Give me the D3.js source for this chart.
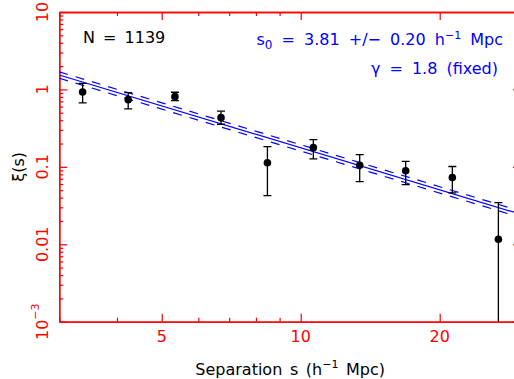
<!DOCTYPE html>
<html>
<head>
<meta charset="utf-8">
<script src="https://cdn.jsdelivr.net/npm/d3@7/dist/d3.min.js"></script>
<style>
  html, body { margin: 0; padding: 0; background: #fff; }
  svg { display: block; }
  text { font-family: "DejaVu Sans", sans-serif; }
</style>
</head>
<body>
<svg id="chart" width="514" height="379"></svg>
<script>
// ---- data ----
const separation = [3.37, 4.23, 5.34, 6.72, 8.47, 10.65, 13.42, 16.88, 21.3, 26.8];
const xi         = [0.928, 0.738, 0.807, 0.432, 0.113, 0.177, 0.105, 0.089, 0.073, 0.0116];
const xiHigh     = [1.20, 0.909, 0.920, 0.523, 0.182, 0.225, 0.144, 0.118, 0.101, 0.0345];
const xiLow      = [0.669, 0.560, 0.717, 0.355, 0.0425, 0.1265, 0.0644, 0.0589, 0.046, 0.0005];

// power-law fit  xi(s) = (s / s0)^-gamma
const s0 = 3.81;
const s0Err = 0.20;
const gamma = 1.8;
const nPairs = 1139;

const xDomain = [3, 30];
const yDomain = [1e-3, 10];
const xTickMajor = [5, 10, 20];
const xTickMinor = [3, 4, 6, 7, 8, 9, 30];
const xTickLabels = ["5", "10", "20"];
const yTickMajor = [1e-3, 1e-2, 1e-1, 1, 10];
const yTickLabels = [["10", "\u22123"], ["0.01"], ["0.1"], ["1"], ["10"]];
const yTickMinor = [];
[1e-3, 1e-2, 1e-1, 1].forEach(d => { for (let k = 2; k <= 9; k++) yTickMinor.push(d * k); });

// ---- layout ----
const L = 59.3, R = 521, T = 12, B = 321.7;
const RED = "#ff0000", BLUE = "#0000ff";

const svg = d3.select("#chart");
const x = d3.scaleLog().domain(xDomain).range([L, R]);
const y = d3.scaleLog().domain(yDomain).range([B, T]);

svg.append("defs").append("clipPath").attr("id", "plotclip")
  .append("rect").attr("x", L).attr("y", T).attr("width", R - L).attr("height", B - T);

// ---- axes (ticks inward) ----
function styleAxis(g) {
  g.selectAll("path.domain").attr("stroke", RED).attr("stroke-width", 1.3);
  g.selectAll(".tick line").attr("stroke", RED).attr("stroke-width", 1.2);
  g.selectAll(".tick text").remove();
}
const axes = svg.append("g");
// bottom
axes.append("g").attr("transform", `translate(0,${B})`)
  .call(d3.axisBottom(x).tickValues(xTickMinor).tickSizeInner(-4).tickSizeOuter(0).tickFormat(""))
  .call(styleAxis);
axes.append("g").attr("transform", `translate(0,${B})`)
  .call(d3.axisBottom(x).tickValues(xTickMajor).tickSizeInner(-8).tickSizeOuter(0).tickFormat(""))
  .call(styleAxis);
// top
axes.append("g").attr("transform", `translate(0,${T})`)
  .call(d3.axisTop(x).tickValues(xTickMinor).tickSizeInner(-4).tickSizeOuter(0).tickFormat(""))
  .call(styleAxis);
axes.append("g").attr("transform", `translate(0,${T})`)
  .call(d3.axisTop(x).tickValues(xTickMajor).tickSizeInner(-8).tickSizeOuter(0).tickFormat(""))
  .call(styleAxis);
// left
axes.append("g").attr("transform", `translate(${L},0)`)
  .call(d3.axisLeft(y).tickValues(yTickMinor).tickSizeInner(-4).tickSizeOuter(0).tickFormat(""))
  .call(styleAxis);
axes.append("g").attr("transform", `translate(${L},0)`)
  .call(d3.axisLeft(y).tickValues(yTickMajor).tickSizeInner(-8).tickSizeOuter(0).tickFormat(""))
  .call(styleAxis);
// right
axes.append("g").attr("transform", `translate(${R},0)`)
  .call(d3.axisRight(y).tickValues(yTickMinor).tickSizeInner(-4).tickSizeOuter(0).tickFormat(""))
  .call(styleAxis);
axes.append("g").attr("transform", `translate(${R},0)`)
  .call(d3.axisRight(y).tickValues(yTickMajor).tickSizeInner(-8).tickSizeOuter(0).tickFormat(""))
  .call(styleAxis);

// tick labels
svg.append("g").selectAll("text").data(xTickMajor).join("text")
  .attr("x", d => x(d)).attr("y", B + 20.3)
  .attr("text-anchor", "middle").attr("fill", RED).attr("font-size", 16)
  .text((d, i) => xTickLabels[i]);

const yl = svg.append("g").selectAll("text").data(yTickMajor).join("text")
  .attr("transform", d => `translate(48,${y(d)}) rotate(-90)`)
  .attr("text-anchor", "middle").attr("fill", RED).attr("font-size", 16);
yl.each(function(d, i) {
  const t = d3.select(this);
  const parts = yTickLabels[i];
  t.append("tspan").text(parts[0]);
  if (parts[1]) t.append("tspan").attr("font-size", 11).attr("dy", -9).text(parts[1]);
});

// axis titles
const xt = svg.append("text").attr("x", (L + R) / 2).attr("y", 375)
  .attr("text-anchor", "middle").attr("font-size", 16).attr("fill", "#000")
  .attr("word-spacing", 2.5);
xt.append("tspan").text("Separation s (h");
xt.append("tspan").attr("font-size", 11).attr("dy", -7).text("\u22121");
xt.append("tspan").attr("dy", 7).text(" Mpc)");

svg.append("text").attr("transform", `translate(24,${(T + B) / 2}) rotate(-90)`)
  .attr("text-anchor", "middle").attr("font-size", 16).attr("fill", "#000")
  .text("\u03BE(s)");

// ---- fit lines ----
const plot = svg.append("g").attr("clip-path", "url(#plotclip)");
const fitLine = d3.line().x(d => x(d[0])).y(d => y(d[1]));
function model(r0) { return xDomain.map(s => [s, Math.pow(s / r0, -gamma)]); }
plot.append("path").attr("d", fitLine(model(s0)))
  .attr("fill", "none").attr("stroke", BLUE).attr("stroke-width", 1.2);
[s0 - s0Err, s0 + s0Err].forEach(r0 => {
  plot.append("path").attr("d", fitLine(model(r0)))
    .attr("fill", "none").attr("stroke", BLUE).attr("stroke-width", 1.2)
    .attr("stroke-dasharray", "9,8");
});

// ---- error bars and points ----
const pts = separation.map((s, i) => ({ s, v: xi[i], hi: xiHigh[i], lo: xiLow[i] }));
const eb = plot.append("g").attr("stroke", "#000").attr("stroke-width", 1.3);
eb.selectAll("line.v").data(pts).join("line").attr("class", "v")
  .attr("x1", d => x(d.s)).attr("x2", d => x(d.s))
  .attr("y1", d => y(d.hi)).attr("y2", d => y(d.lo));
eb.selectAll("line.h").data(pts).join("line").attr("class", "h")
  .attr("x1", d => x(d.s) - 4).attr("x2", d => x(d.s) + 4)
  .attr("y1", d => y(d.hi)).attr("y2", d => y(d.hi));
eb.selectAll("line.l").data(pts).join("line").attr("class", "l")
  .attr("x1", d => x(d.s) - 4).attr("x2", d => x(d.s) + 4)
  .attr("y1", d => y(d.lo)).attr("y2", d => y(d.lo));
plot.append("g").selectAll("circle").data(pts).join("circle")
  .attr("cx", d => x(d.s)).attr("cy", d => y(d.v)).attr("r", 3.8).attr("fill", "#000");

// ---- annotations ----
svg.append("text").attr("x", 83).attr("y", 43).attr("font-size", 16).attr("fill", "#000")
  .attr("word-spacing", 3).text(`N = ${nPairs}`);

const a1 = svg.append("text").attr("x", 503).attr("y", 45).attr("text-anchor", "end")
  .attr("font-size", 16).attr("fill", BLUE).attr("word-spacing", 4);
a1.append("tspan").text("s");
a1.append("tspan").attr("font-size", 12).attr("dy", 4).text("0");
a1.append("tspan").attr("dy", -4).text(` = ${s0.toFixed(2)} +/\u2212 ${s0Err.toFixed(2)} h`);
a1.append("tspan").attr("font-size", 11).attr("dy", -6).text("\u22121");
a1.append("tspan").attr("dy", 6).text(" Mpc");

svg.append("text").attr("x", 498).attr("y", 74).attr("text-anchor", "end")
  .attr("font-size", 16).attr("fill", BLUE).attr("word-spacing", 4)
  .text(`\u03B3 = ${gamma.toFixed(1)} (fixed)`);
</script>
</body>
</html>
